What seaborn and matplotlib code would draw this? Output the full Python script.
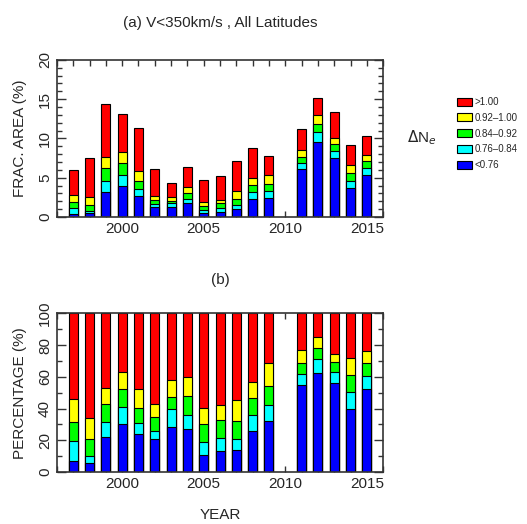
import numpy as np
import pandas as pd
import seaborn as sns
import matplotlib
matplotlib.use("Agg")
import matplotlib.pyplot as plt
from matplotlib.patches import Patch
from matplotlib.ticker import MultipleLocator

# =========================
# DATA
# =========================
years = [1997, 1998, 1999, 2000, 2001, 2002, 2003, 2004, 2005, 2006,
         2007, 2008, 2009, 2011, 2012, 2013, 2014, 2015]

# total fractional area (%) per year
total_area = [6.0, 7.5, 14.4, 13.1, 11.35, 6.15, 4.35, 6.3, 4.75, 5.25,
              7.15, 8.77, 7.7, 11.17, 15.2, 13.4, 9.2, 10.3]

# cumulative percentage (top of each layer, counted from the bottom)
pct_blue = [6.9, 5.9, 22.0, 30.0, 23.7, 20.5, 28.5, 27.3, 10.9, 13.0,
            14.0, 25.6, 32.0, 54.5, 62.5, 56.0, 40.0, 52.0]
pct_cyan = [19.5, 10.3, 31.7, 40.9, 31.0, 26.0, 39.6, 36.0, 18.9, 21.6,
            20.8, 36.0, 42.3, 61.6, 70.9, 63.1, 50.3, 60.2]
pct_green = [31.7, 21.0, 43.0, 52.0, 40.5, 34.6, 47.2, 48.0, 30.4, 33.0,
             31.9, 46.5, 54.3, 68.8, 78.0, 69.6, 61.0, 68.8]
pct_yellow = [46.1, 34.0, 53.0, 63.0, 52.0, 42.6, 58.0, 60.0, 40.5, 42.3,
              45.5, 56.6, 68.8, 76.7, 85.1, 74.6, 71.5, 76.1]
pct_red = [100.0] * len(years)

layer_labels = [">1.00", "0.92\u20131.00", "0.84\u20130.92", "0.76\u20130.84", "<0.76"]
layer_colors = ["#ff0000", "#ffff00", "#00ff00", "#00ffff", "#0000ff"]
layer_pcts = [pct_red, pct_yellow, pct_green, pct_cyan, pct_blue]

# =========================
# STYLE
# =========================
sns.set_style("ticks")
plt.rcParams["font.family"] = ["Liberation Sans", "DejaVu Sans"]
plt.rcParams["font.size"] = 11

fig = plt.figure(figsize=(5.27, 5.24), dpi=100)
ax_a = fig.add_axes([0.108, 0.586, 0.619, 0.2996])
ax_b = fig.add_axes([0.108, 0.0992, 0.619, 0.303])


def draw_stack(ax, scale):
    # overlapping cumulative bars, drawn from the top layer down
    for pct, col in zip(layer_pcts, layer_colors):
        df = pd.DataFrame({
            "year": years,
            "value": np.array(scale) * np.array(pct) / 100.0,
        })
        sns.barplot(data=df, x="year", y="value", native_scale=True,
                    color=col, saturation=1, width=0.55,
                    edgecolor="black", linewidth=0.8, ax=ax)


def style_axes(ax, ymax, ymajor, yminor):
    ax.set_xlim(1996, 2016)
    ax.set_ylim(0, ymax)
    ax.xaxis.set_major_locator(MultipleLocator(5))
    ax.xaxis.set_minor_locator(MultipleLocator(1))
    ax.yaxis.set_major_locator(MultipleLocator(ymajor))
    ax.yaxis.set_minor_locator(MultipleLocator(yminor))
    ax.tick_params(which="both", direction="in", top=True, right=True,
                   width=1.0, color="#333333", labelsize=11)
    ax.tick_params(axis="x", which="both", length=4.5)
    ax.tick_params(axis="y", which="major", length=6.5, labelrotation=90)
    ax.tick_params(axis="y", which="minor", length=3.6)
    for t in ax.get_yticklabels():
        t.set_va("center")
    for sp in ax.spines.values():
        sp.set_visible(True)
        sp.set_linewidth(1.2)
        sp.set_color("#333333")
    ax.set_xlabel("")


# =========================
# PANEL (a)
# =========================
draw_stack(ax_a, total_area)
style_axes(ax_a, 20, 5, 1)
ax_a.set_ylabel("FRAC. AREA (%)", labelpad=8)
ax_a.set_title("(a) V<350km/s , All Latitudes", fontsize=11, pad=24)

# =========================
# PANEL (b)
# =========================
draw_stack(ax_b, [100.0] * len(years))
style_axes(ax_b, 100, 20, 10)
ax_b.set_ylabel("PERCENTAGE (%)", labelpad=8)
ax_b.set_title("(b)", fontsize=11, pad=21)
ax_b.set_xlabel("YEAR", labelpad=12)

# =========================
# LEGEND
# =========================
handles = [Patch(facecolor=c, edgecolor="black", linewidth=0.8) for c in layer_colors]
fig.legend(handles, layer_labels, loc="upper left",
           bbox_to_anchor=(0.867, 0.815), frameon=False, fontsize=7,
           handlelength=1.55, handleheight=0.9, handletextpad=0.3,
           labelspacing=0.6, borderpad=0, borderaxespad=0)
fig.text(0.80, 0.737, r"$\Delta$N$_e$", fontsize=11, ha="center", va="center")

fig.savefig("out.png", dpi=100)
